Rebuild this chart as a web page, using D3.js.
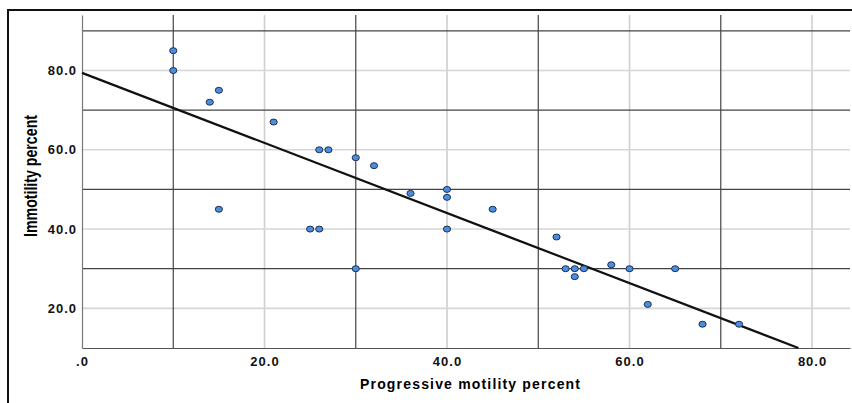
<!DOCTYPE html>
<html>
<head>
<meta charset="utf-8">
<script src="https://cdn.jsdelivr.net/npm/d3@7"></script>
<style>
  html, body { margin: 0; padding: 0; background: #fff; }
  svg { display: block; }
  .tick text { font-family: "Liberation Sans", Arial, sans-serif; font-weight: bold; font-size: 13px; fill: #111; letter-spacing: 1px; }
</style>
</head>
<body>
<div id="chart"></div>
<script>
// progressive motility (x) vs immotility (y), one entry per sample
const progressive = [10, 10, 14, 15, 15, 21, 25, 26, 26, 27, 30, 30, 32, 36, 40, 40, 40, 45, 52, 53, 54, 54, 55, 58, 60, 62, 65, 68, 72];
const immotility  = [85, 80, 72, 75, 45, 67, 40, 40, 60, 60, 58, 30, 56, 49, 50, 48, 40, 45, 38, 30, 30, 28, 30, 31, 30, 21, 30, 16, 16];

const xTicks = [0, 20, 40, 60, 80];
const yTicks = [20, 40, 60, 80];
const xRefLines = [10, 30, 50, 70];
const yRefLines = [30, 50, 70, 90];

// fitted line: immotility = a + b * progressive
const fitIntercept = 79.4;
const fitSlope = -0.884;

const width = 852, height = 403;
const plot = {left: 82, right: 850, top: 15, bottom: 348};

const svg = d3.select('#chart').append('svg')
    .attr('width', width)
    .attr('height', height);

const x = d3.scaleLinear().domain([0, 84.16]).range([plot.left, plot.right]);
const y = d3.scaleLinear().domain([10, 94]).range([plot.bottom, plot.top]);

// outer frame (top and left edges only are visible)
svg.append('path')
    .attr('d', `M8,${height}V10H${width}`)
    .attr('fill', 'none')
    .attr('stroke', '#111')
    .attr('stroke-width', 2);

// light major grid
svg.append('g')
    .selectAll('line')
    .data(xTicks.filter(d => d > 0))
  .enter().append('line')
    .attr('x1', d => x(d)).attr('x2', d => x(d))
    .attr('y1', plot.top).attr('y2', plot.bottom)
    .attr('stroke', '#cfcfcf').attr('stroke-width', 1.6);

svg.append('g')
    .selectAll('line')
    .data(yTicks)
  .enter().append('line')
    .attr('x1', plot.left).attr('x2', plot.right)
    .attr('y1', d => y(d)).attr('y2', d => y(d))
    .attr('stroke', '#d6d6d6').attr('stroke-width', 1.6);

// dark reference lines
svg.append('g')
    .selectAll('line')
    .data(xRefLines)
  .enter().append('line')
    .attr('x1', d => x(d)).attr('x2', d => x(d))
    .attr('y1', plot.top).attr('y2', plot.bottom)
    .attr('stroke', '#444').attr('stroke-width', 1.2);

svg.append('g')
    .selectAll('line')
    .data(yRefLines)
  .enter().append('line')
    .attr('x1', plot.left).attr('x2', plot.right)
    .attr('y1', d => y(d)).attr('y2', d => y(d))
    .attr('stroke', '#444').attr('stroke-width', 1.2);

// axes
const fmt = d => d === 0 ? '.0' : d.toFixed(1);

const xAxis = svg.append('g')
    .attr('transform', 'translate(0,' + plot.bottom + ')')
    .call(d3.axisBottom(x).tickValues(xTicks).tickFormat(fmt).tickSize(0).tickPadding(9));
xAxis.select('.domain').attr('stroke', '#555').attr('stroke-width', 1.2);

const yAxis = svg.append('g')
    .attr('transform', 'translate(' + plot.left + ',0)')
    .call(d3.axisLeft(y).tickValues(yTicks).tickFormat(fmt).tickSize(0).tickPadding(5));
yAxis.select('.domain').attr('stroke', '#777').attr('stroke-width', 1.2);

// fit line, clipped at the bottom of the plot
const xEnd = (y.domain()[0] - fitIntercept) / fitSlope;
svg.append('line')
    .attr('x1', x(0)).attr('y1', y(fitIntercept))
    .attr('x2', x(xEnd)).attr('y2', y(fitIntercept + fitSlope * xEnd))
    .attr('stroke', '#111')
    .attr('stroke-width', 2.2);

// points
svg.selectAll('.dot')
    .data(d3.range(progressive.length))
  .enter().append('ellipse')
    .attr('class', 'dot')
    .attr('cx', i => x(progressive[i]))
    .attr('cy', i => y(immotility[i]))
    .attr('rx', 3.6)
    .attr('ry', 3)
    .attr('fill', '#4a8ee0')
    .attr('stroke', '#1f2f4f')
    .attr('stroke-width', 1);

// axis titles
svg.append('text')
    .attr('x', 470)
    .attr('y', 389)
    .attr('text-anchor', 'middle')
    .attr('textLength', 220)
    .style('font-family', '"Liberation Sans", Arial, sans-serif')
    .style('font-weight', 'bold')
    .style('font-size', '14px')
    .text('Progressive motility percent');

svg.append('text')
    .attr('transform', 'translate(37,176) rotate(-90)')
    .attr('text-anchor', 'middle')
    .attr('textLength', 122)
    .attr('lengthAdjust', 'spacingAndGlyphs')
    .style('font-family', '"Liberation Sans Narrow", "Arial Narrow", "Liberation Sans", sans-serif')
    .style('font-weight', 'bold')
    .style('font-size', '18px')
    .text('Immotility percent');
</script>
</body>
</html>
